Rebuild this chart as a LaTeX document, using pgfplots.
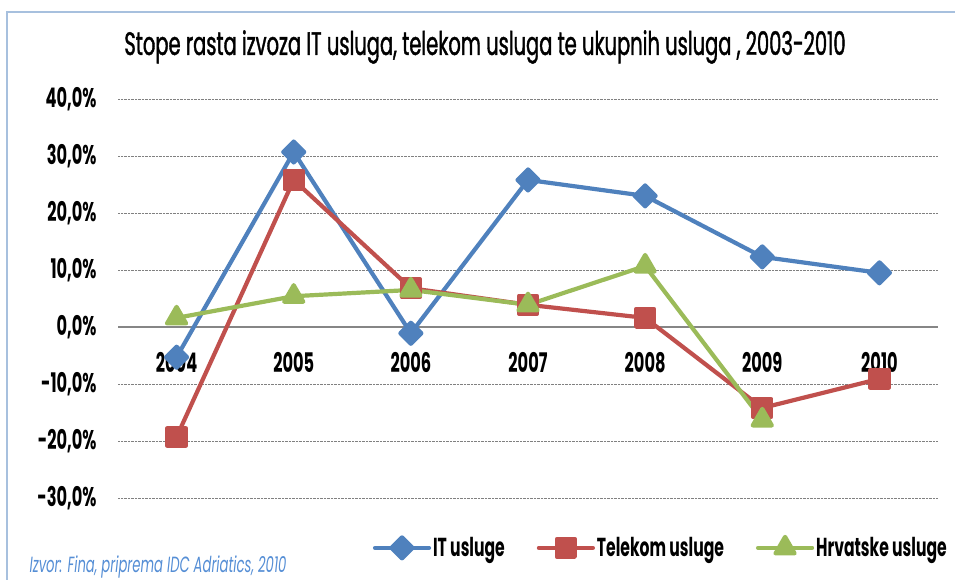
\documentclass[border=0pt]{standalone}
\usepackage{fontspec}
\setmainfont{Poppins}[FakeStretch=0.6]
\newfontfamily\titlefont{Poppins}[FakeStretch=0.6, FakeBold=1.2]
\usepackage{pgfplots}
\pgfplotsset{compat=1.18}
\definecolor{itblue}{RGB}{79,129,189}
\definecolor{telred}{RGB}{192,80,77}
\definecolor{hrgreen}{RGB}{155,187,89}
\definecolor{framecol}{RGB}{167,192,222}
\definecolor{srcblue}{RGB}{85,142,213}
\definecolor{zerogray}{RGB}{134,134,134}
\begin{document}
\begin{tikzpicture}[x=1pt,y=1pt]
\useasboundingbox (0,0) rectangle (955,580);
\draw[framecol, line width=1.5pt] (7,0) -- (7,568) -- (955,568);
\begin{axis}[
  at={(118pt,82pt)}, anchor=south west,
  scale only axis, width=820pt, height=399pt,
  xmin=-0.5, xmax=6.5, ymin=-30, ymax=40,
  axis x line=middle, axis y line=left,
  axis line style={-},
  x axis line style={draw=zerogray, line width=2pt},
  y axis line style={draw=none},
  major tick length=0pt,
  xtick={0,...,6},
  xticklabels={2004,2005,2006,2007,2008,2009,2010},
  ytick={-30,-20,...,40},
  yticklabels={{-30,0\%},{-20,0\%},{-10,0\%},{0,0\%},{10,0\%},{20,0\%},{30,0\%},{40,0\%}},
  ymajorgrids,
  grid style={densely dotted, gray, line width=0.8pt},
  tick label style={font=\fontsize{27}{30}\selectfont\bfseries},
  yticklabel style={anchor=east, xshift=-18pt},
  xticklabel style={anchor=north, yshift=-22pt},
  legend style={at={(0.662,-0.125)}, anchor=center, draw=none, fill=none,
    font=\fontsize{26}{30}\selectfont\bfseries,
    /tikz/every even column/.append style={column sep=30pt}},
  legend columns=3,
  legend image code/.code={\draw[mark repeat=2,mark phase=2,#1]
    plot coordinates {(0pt,0pt) (27pt,0pt) (54pt,0pt)};},
  every axis plot/.append style={line width=4.2pt, line join=round, line cap=round},
]
\addplot[itblue, mark=square*, mark size=7.4pt, mark options={rotate=45, solid}]
  coordinates {(0,-5.3) (1,30.7) (2,-1.1) (3,25.8) (4,23.0) (5,12.3) (6,9.5)};
\addlegendentry{IT usluge}
\addplot[telred, mark=square*, mark size=9pt, mark options={solid}]
  coordinates {(0,-19.3) (1,25.8) (2,6.8) (3,3.9) (4,1.6) (5,-14.2) (6,-9.1)};
\addlegendentry{Telekom usluge}
\addplot[hrgreen, mark=triangle*, mark size=11pt, mark options={solid}]
  coordinates {(0,1.6) (1,5.4) (2,6.5) (3,3.9) (4,10.7) (5,-16.3)};
\addlegendentry{Hrvatske usluge}
\end{axis}
\node[font=\fontsize{32.5}{38}\selectfont\titlefont] at (485,533)
  {Stope rasta izvoza IT usluga, telekom usluga te ukupnih usluga , 2003-2010};
\node[anchor=west, font=\fontsize{22}{26}\selectfont\itshape, text=srcblue] at (26,13)
  {Izvor: Fina, priprema IDC Adriatics, 2010};
\end{tikzpicture}
\end{document}
